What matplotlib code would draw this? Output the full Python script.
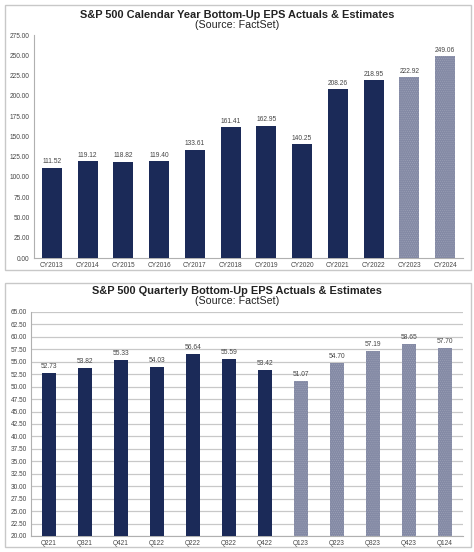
import matplotlib.pyplot as plt
from matplotlib.patches import Rectangle

plt.rcParams['font.family'] = ['Liberation Sans', 'DejaVu Sans']
plt.rcParams['hatch.linewidth'] = 0.3

years = ["CY2013", "CY2014", "CY2015", "CY2016", "CY2017", "CY2018",
         "CY2019", "CY2020", "CY2021", "CY2022", "CY2023", "CY2024"]
year_eps = [111.52, 119.12, 118.82, 119.40, 133.61, 161.41,
            162.95, 140.25, 208.26, 218.95, 222.92, 249.06]
year_est = [False] * 10 + [True] * 2

quarters = ["Q221", "Q321", "Q421", "Q122", "Q222", "Q322",
            "Q422", "Q123", "Q223", "Q323", "Q423", "Q124"]
q_eps = [52.73, 53.82, 55.33, 54.03, 56.64, 55.59,
         53.42, 51.07, 54.70, 57.19, 58.65, 57.70]
q_est = [False] * 7 + [True] * 5

navy = "#1b2a58"
est = "#848aa5"
tick_col = "#454545"

fig = plt.figure(figsize=(4.74, 5.52), dpi=100)

# panel borders
for y0, h in [(5, 265), (283, 264)]:
    fig.patches.append(Rectangle((5 / 474, 1 - (y0 + h) / 552), 466 / 474, h / 552,
                                 transform=fig.transFigure, fill=False,
                                 edgecolor="#c8c8c8", linewidth=1.0))


def draw(ax, labels, vals, flags, width):
    x = range(len(labels))
    for i, v, e in zip(x, vals, flags):
        if e:
            ax.bar(i, v, width=width, color=est, edgecolor="#a3a8bc",
                   linewidth=0, hatch="........", zorder=3)
        else:
            ax.bar(i, v, width=width, color=navy, linewidth=0, zorder=3)
    ax.set_xticks(list(x))
    ax.set_xticklabels(labels, fontsize=4.7, color=tick_col)
    ax.set_xlim(-0.5, len(labels) - 0.5)
    for s in ["top", "right"]:
        ax.spines[s].set_visible(False)
    for s in ["left", "bottom"]:
        ax.spines[s].set_color("#b0b0b0")
        ax.spines[s].set_linewidth(0.8)
    ax.tick_params(axis="both", length=0, pad=3, labelsize=4.7, labelcolor=tick_col)
    ax.set_yticklabels([f"{t:.2f}" for t in ax.get_yticks()])


# calendar year chart
ax1 = fig.add_axes([34 / 474, 1 - 258 / 552, 429 / 474, 223 / 552])
ax1.set_ylim(0, 275)
ax1.set_yticks([i * 25 for i in range(12)])
draw(ax1, years, year_eps, year_est, 0.56)
for i, v in enumerate(year_eps):
    ax1.text(i, v + 3, f"{v:.2f}", ha="center", va="bottom", fontsize=4.8, color=tick_col)

fig.text(0.5, 1 - 15 / 552, "S&P 500 Calendar Year Bottom-Up EPS Actuals & Estimates",
         ha="center", va="center", fontsize=7.9, fontweight="bold", color="#222222")
fig.text(0.5, 1 - 25 / 552, "(Source: FactSet)", ha="center", va="center",
         fontsize=7.7, color="#222222")

# quarterly chart
ax2 = fig.add_axes([31 / 474, 1 - 536 / 552, 432 / 474, 224 / 552])
ax2.set_ylim(20, 65)
ax2.set_yticks([20 + i * 2.5 for i in range(19)])
ax2.grid(axis="y", color="#c8c8c8", linewidth=0.9, zorder=0)
draw(ax2, quarters, q_eps, q_est, 0.41)
for i, v in enumerate(q_eps):
    ax2.text(i, v + 0.6, f"{v:.2f}", ha="center", va="bottom", fontsize=4.8, color=tick_col)

fig.text(0.5, 1 - 291 / 552, "S&P 500 Quarterly Bottom-Up EPS Actuals & Estimates",
         ha="center", va="center", fontsize=7.9, fontweight="bold", color="#222222")
fig.text(0.5, 1 - 301 / 552, "(Source: FactSet)", ha="center", va="center",
         fontsize=7.7, color="#222222")

fig.savefig("out.png", dpi=100)
